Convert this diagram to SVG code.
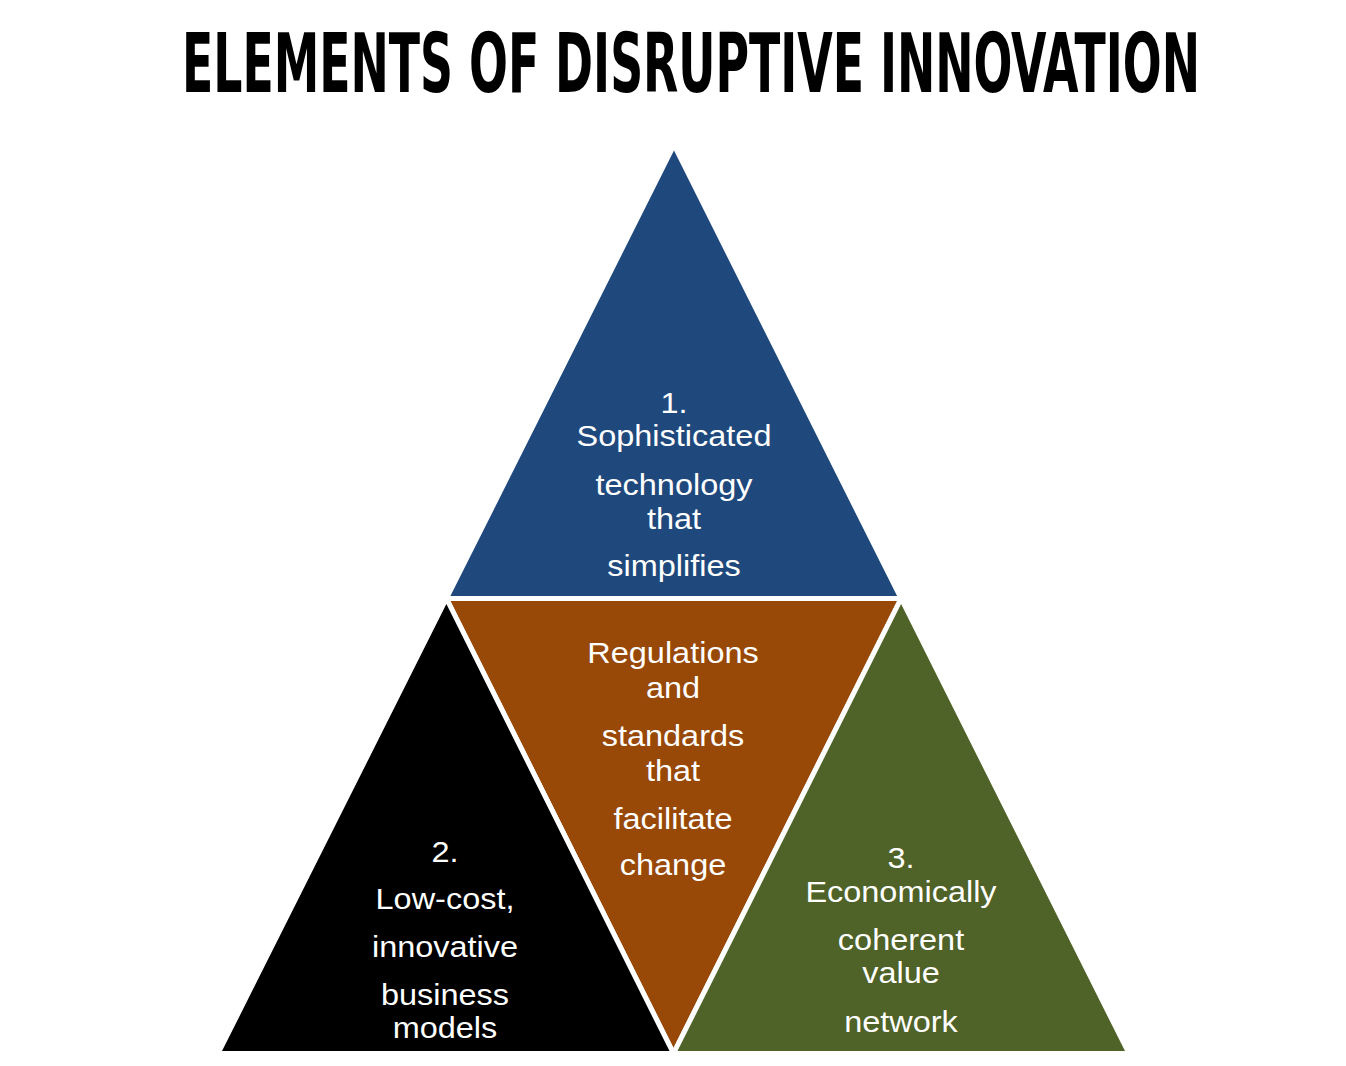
<svg xmlns="http://www.w3.org/2000/svg" width="1346" height="1066" viewBox="0 0 1346 1066">
<style>
.tri{stroke:#fff;stroke-width:5;stroke-linejoin:miter}
.t{font-family:"Liberation Sans",Arial,sans-serif;font-size:29px;fill:#fff;text-anchor:middle}
.title{font-family:"DejaVu Sans Condensed","DejaVu Sans",sans-serif;font-weight:bold;font-size:82px;fill:#000}
</style>
<rect width="1346" height="1066" fill="#fff"/>
<g id="title">
<text class="title" transform="translate(182,92) scale(0.57,1)" x="0" y="0" textLength="1786" lengthAdjust="spacingAndGlyphs">ELEMENTS OF DISRUPTIVE INNOVATION</text>
</g>
<g id="node-top">
<polygon class="tri" fill="#1f497d" points="674,145 446.4,598.5 901.1,598.5"/>
<text class="t" transform="translate(674,0) scale(1.12,1)"><tspan x="0" y="413">1.</tspan><tspan x="0" y="446">Sophisticated</tspan><tspan x="0" y="495">technology</tspan><tspan x="0" y="529">that</tspan><tspan x="0" y="576">simplifies</tspan></text>
</g>
<g id="node-center">
<polygon class="tri" fill="#984807" points="446.4,598.5 901.1,598.5 673.5,1053.5"/>
<text class="t" transform="translate(673,0) scale(1.12,1)"><tspan x="0" y="663">Regulations</tspan><tspan x="0" y="698">and</tspan><tspan x="0" y="746">standards</tspan><tspan x="0" y="781">that</tspan><tspan x="0" y="829">facilitate</tspan><tspan x="0" y="875">change</tspan></text>
</g>
<g id="node-left">
<polygon class="tri" fill="#000000" points="446.4,598.5 218,1053.5 673.5,1053.5"/>
<text class="t" transform="translate(445,0) scale(1.12,1)"><tspan x="0" y="862">2.</tspan><tspan x="0" y="909">Low-cost,</tspan><tspan x="0" y="957">innovative</tspan><tspan x="0" y="1005">business</tspan><tspan x="0" y="1038">models</tspan></text>
</g>
<g id="node-right">
<polygon class="tri" fill="#4f6228" points="901.1,598.5 673.5,1053.5 1129,1053.5"/>
<text class="t" transform="translate(901,0) scale(1.12,1)"><tspan x="0" y="868">3.</tspan><tspan x="0" y="902">Economically</tspan><tspan x="0" y="950">coherent</tspan><tspan x="0" y="983">value</tspan><tspan x="0" y="1032">network</tspan></text>
</g>
<g id="connectors"></g>
</svg>
